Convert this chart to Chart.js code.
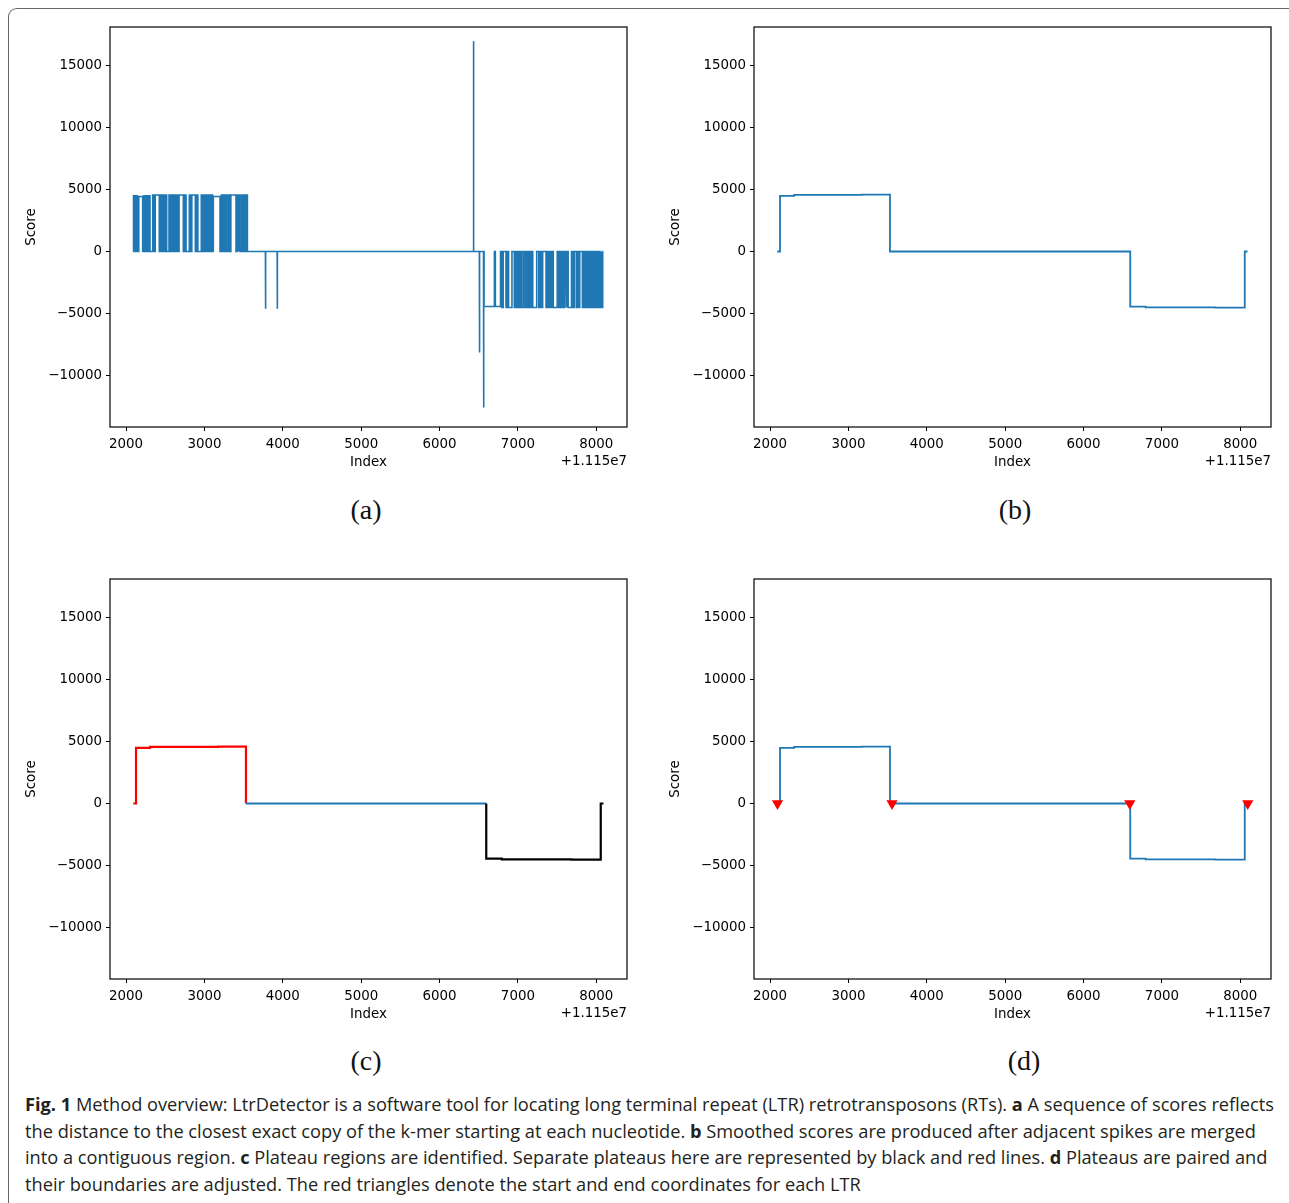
<!DOCTYPE html>
<html lang="en">
<head>
<meta charset="UTF-8">
<title>LtrDetector method overview</title>
<script src="https://cdn.jsdelivr.net/npm/chart.js"></script>
<style>
  body { margin: 0; background: #fff; width: 1289px; height: 1203px; position: relative; overflow: hidden; }
  .box { position: absolute; left: 8px; top: 8px; width: 1320px; height: 1320px;
         border-left: 1px solid #666; border-top: 1px solid #666; border-top-left-radius: 9px; }
  .panel { position: absolute; width: 640px; height: 490px; }
  .sub { position: absolute; font-family: "Liberation Serif", serif; font-size: 28px; line-height: 28px;
         transform: translateX(-50%); color: #111; }
  .caption { position: absolute; left: 25px; top: 1091px; font-family: "Open Sans", sans-serif;
             font-size: 16.5px; line-height: 26.7px; color: #231f20; white-space: nowrap; }
  .caption b { font-weight: 700; }
</style>
</head>
<body>
<div class="box"></div>

<canvas id="panelA" class="panel" width="640" height="490" style="left:0;top:0"></canvas>
<canvas id="panelB" class="panel" width="640" height="490" style="left:644px;top:0"></canvas>
<canvas id="panelC" class="panel" width="640" height="490" style="left:0;top:552px"></canvas>
<canvas id="panelD" class="panel" width="640" height="490" style="left:644px;top:552px"></canvas>

<div class="sub" style="left:366px;top:496px">(a)</div>
<div class="sub" style="left:1015px;top:496px">(b)</div>
<div class="sub" style="left:366px;top:1047px">(c)</div>
<div class="sub" style="left:1024px;top:1047px">(d)</div>

<div class="caption" id="caption">
<div id="capLine1"><b>Fig. 1</b> Method overview: LtrDetector is a software tool for locating long terminal repeat (LTR) retrotransposons (RTs). <b>a</b> A sequence of scores reflects</div>
<div>the distance to the closest exact copy of the k-mer starting at each nucleotide. <b>b</b> Smoothed scores are produced after adjacent spikes are merged</div>
<div>into a contiguous region. <b>c</b> Plateau regions are identified. Separate plateaus here are represented by black and red lines. <b>d</b> Plateaus are paired and</div>
<div>their boundaries are adjusted. The red triangles denote the start and end coordinates for each LTR</div>
</div>

<script>
// axes (index offset +1.115e7)
const xTicks = [2000, 3000, 4000, 5000, 6000, 7000, 8000];
const yTicks = [-10000, -5000, 0, 5000, 10000, 15000];
const xRange = [1795, 8392];
const yRange = [-14150, 18100];

// (a) raw scores: runs [start, end, score] above/below the zero line
const plusRuns = [
    [2095, 2111, 4500], [2127, 2143, 4500], [2162, 2212, 4430], [2228, 2244, 4500], [2260, 2276, 4500],
    [2290, 2305, 4500], [2340, 2356, 4560], [2372, 2424, 4560], [2440, 2456, 4560], [2472, 2488, 4560],
    [2503, 2518, 4560], [2548, 2564, 4560], [2580, 2596, 4560], [2612, 2628, 4560], [2644, 2660, 4560],
    [2676, 2731, 4560], [2747, 2765, 4560], [2807, 2823, 4560], [2839, 2884, 4560], [2900, 2916, 4560],
    [2960, 2976, 4560], [2992, 3008, 4560], [3024, 3040, 4560], [3056, 3072, 4560], [3088, 3104, 4560],
    [3113, 3199, 4430], [3215, 3231, 4560], [3247, 3262, 4560], [3270, 3284, 4560], [3305, 3321, 4560],
    [3337, 3403, 4560], [3419, 3435, 4560], [3441, 3454, 4560], [3475, 3491, 4560], [3507, 3523, 4560],
    [3531, 3548, 4560]
];
const minusRuns = [
    [6568, 6700, -4440], [6712, 6778, -4440],
    [6794, 6812, -4520], [6848, 6865, -4520], [6881, 6924, -4520], [6954, 6970, -4520], [6986, 7002, -4520],
    [7018, 7034, -4520], [7050, 7072, -4520], [7093, 7109, -4520], [7125, 7141, -4520], [7157, 7173, -4520],
    [7189, 7240, -4520], [7266, 7282, -4520], [7298, 7316, -4520], [7359, 7375, -4520], [7391, 7407, -4520],
    [7423, 7439, -4520], [7451, 7502, -4520], [7518, 7534, -4520], [7550, 7566, -4520], [7582, 7598, -4520],
    [7614, 7625, -4520], [7641, 7684, -4520], [7705, 7721, -4520], [7747, 7763, -4520], [7779, 7789, -4520],
    [7823, 7839, -4520], [7855, 7871, -4520], [7887, 7903, -4520], [7919, 7935, -4520], [7951, 7967, -4520],
    [7983, 7999, -4520], [8015, 8031, -4520], [8047, 8063, -4520], [8070, 8082, -4520]
];
// single spikes [position, score]
const spikes = [[3780, -4620], [3930, -4620], [6434, 16950], [6510, -8150], [6563, -12570]];
const rawStart = 2090, rawEnd = 8088;

// (b)-(d) smoothed scores: value smoothY[i] holds from smoothX[i] to smoothX[i+1]
const smoothX = [2092, 2127, 2307, 3175, 3530, 6596, 6794, 7684, 8057, 8092];
const smoothY = [0, 4490, 4570, 4580, 0, -4440, -4510, -4525, 0, 0];

// (c) plateau split points, (d) LTR boundaries
const plateauEdges = [3530, 6596];
const ltrBounds = [2095, 3556, 6590, 8095];

const BLUE = '#1f77b4';

function runsToPoints(runs, x0, x1) {
    const sorted = runs.slice().sort((p, q) => p[0] - q[0]);
    const pts = [{x: x0, y: 0}];
    sorted.forEach(([s, e, v]) => {
        pts.push({x: s, y: 0}, {x: s, y: v}, {x: e, y: v}, {x: e, y: 0});
    });
    pts.push({x: x1, y: 0});
    return pts;
}

function stepPoints(xs, ys) {
    const pts = [];
    xs.forEach((x, i) => {
        if (i > 0) pts.push({x: x, y: ys[i - 1]});
        pts.push({x: x, y: ys[i]});
    });
    return pts;
}

const rawRuns = plusRuns.concat(minusRuns, spikes.map(([x, v]) => [x - 2, x + 2, v]));
const rawPts = runsToPoints(rawRuns, rawStart, rawEnd);
const smoothPts = stepPoints(smoothX, smoothY);

const fmt = v => v < 0 ? '\u2212' + (-v) : String(v);
const tickFont = {family: 'DejaVu Sans', size: 13.4};

const axesText = {
    id: 'axesText',
    afterDraw(chart) {
        const {ctx, chartArea: a} = chart;
        ctx.save();
        ctx.strokeStyle = '#000';
        ctx.lineWidth = 1.2;
        ctx.strokeRect(a.left, a.top, a.right - a.left, a.bottom - a.top);
        ctx.fillStyle = '#000';
        ctx.font = '13.4px "DejaVu Sans"';
        ctx.textBaseline = 'middle';
        ctx.textAlign = 'center';
        ctx.fillText('Index', (a.left + a.right) / 2, a.bottom + 36);
        ctx.textAlign = 'right';
        ctx.fillText('+1.115e7', a.right, a.bottom + 35);
        ctx.translate(a.left - 78, (a.top + a.bottom) / 2);
        ctx.rotate(-Math.PI / 2);
        ctx.textAlign = 'center';
        ctx.fillText('Score', 0, 0);
        ctx.restore();
    }
};

function makeChart(id, datasets) {
    return new Chart(document.getElementById(id), {
        type: 'line',
        data: {datasets: datasets},
        options: {
            responsive: false,
            animation: false,
            layout: {padding: {top: 27, right: 13, left: 0, bottom: 0}},
            plugins: {legend: {display: false}, tooltip: {enabled: false}},
            elements: {point: {radius: 0}, line: {tension: 0}},
            scales: {
                x: {
                    type: 'linear', min: xRange[0], max: xRange[1],
                    afterBuildTicks: s => { s.ticks = xTicks.map(v => ({value: v})); },
                    afterFit: s => { s.height = 63; },
                    grid: {drawOnChartArea: false, tickLength: 4, color: '#000'},
                    border: {display: false},
                    ticks: {color: '#000', font: tickFont, padding: 5, maxRotation: 0, autoSkip: false, callback: fmt}
                },
                y: {
                    type: 'linear', min: yRange[0], max: yRange[1],
                    afterBuildTicks: s => { s.ticks = yTicks.map(v => ({value: v})); },
                    afterFit: s => { s.width = 110; },
                    grid: {drawOnChartArea: false, tickLength: 4, color: '#000'},
                    border: {display: false},
                    ticks: {color: '#000', font: tickFont, padding: 4, autoSkip: false, callback: fmt}
                }
            }
        },
        plugins: [axesText]
    });
}

makeChart('panelA', [{data: rawPts, borderColor: BLUE, borderWidth: 1.6}]);

makeChart('panelB', [{data: smoothPts, borderColor: BLUE, borderWidth: 1.8}]);

makeChart('panelC', [{
    data: smoothPts, borderWidth: 2, borderColor: BLUE,
    segment: {
        borderColor: c => {
            const mid = (c.p0.parsed.x + c.p1.parsed.x) / 2;
            if (mid <= plateauEdges[0]) return '#ff0000';
            if (mid >= plateauEdges[1]) return '#000000';
            return BLUE;
        },
        borderWidth: c => {
            const mid = (c.p0.parsed.x + c.p1.parsed.x) / 2;
            return (mid <= plateauEdges[0] || mid >= plateauEdges[1]) ? 2.2 : 1.8;
        }
    }
}]);

makeChart('panelD', [
    {data: ltrBounds.map(x => ({x: x, y: 0})), showLine: false, pointStyle: 'triangle', pointRotation: 180,
     pointRadius: 6.5, pointBackgroundColor: '#ff0000', pointBorderWidth: 0, borderColor: '#ff0000'},
    {data: smoothPts, borderColor: BLUE, borderWidth: 1.8}
]);

// fit caption width to the printed line length
const cap = document.getElementById('caption');
const w = document.getElementById('capLine1').getBoundingClientRect().width;
cap.style.fontSize = (16.5 * 1250 / w).toFixed(2) + 'px';
</script>
</body>
</html>
